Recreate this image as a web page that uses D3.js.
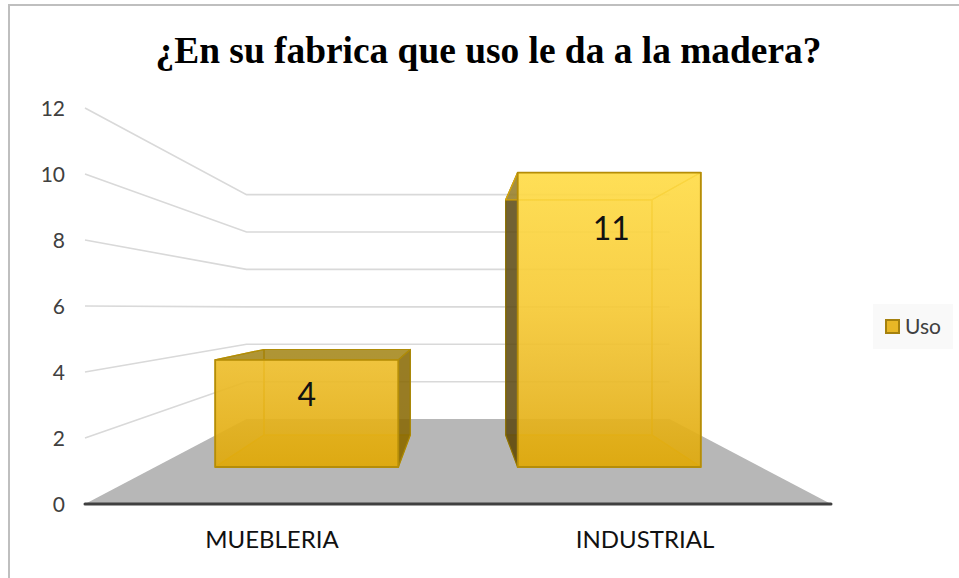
<!DOCTYPE html>
<html><head><meta charset="utf-8">
<script src="https://cdn.jsdelivr.net/npm/d3@7"></script>
<style>html,body{margin:0;padding:0;background:#fff}svg{display:block}</style>
</head><body><svg id="c" width="959" height="578"></svg>
<script>
const titleText = "¿En su fabrica que uso le da a la madera?";
const categories = ["MUEBLERIA", "INDUSTRIAL"];
const values = [4, 11];
const yTicks = [0, 2, 4, 6, 8, 10, 12];
const seriesName = "Uso";

const svg = d3.select("#c");
const FONT = "Lato, 'Open Sans', sans-serif";

// perspective: depth factor s = 1 at the front plane
const vanishX = 458, vanishY = 308;
const xWorld = d3.scaleBand().domain(categories).range([85, 831]).paddingInner(0.395).paddingOuter(0.1975);
const yWorld = d3.scaleLinear().domain([0, 12]).range([504, 108]);
const S = {front: 1, back: 0.567, barFront: 0.811, barBack: 0.648};
const px = (x, s) => vanishX + (x - vanishX) * s;
const py = (v, s) => vanishY + (yWorld(v) - vanishY) * s;
const pt = (x, v, s) => [px(x, s), py(v, s)];
const poly = a => a.map(p => p.map(n => n.toFixed(1)).join(",")).join(" ");

// frame
svg.append("path").attr("d", "M9,578V5H959").attr("fill", "none").attr("stroke", "#bfbfbf").attr("stroke-width", 2);

// gradient
const defs = svg.append("defs");
const grad = defs.append("linearGradient").attr("id", "gold").attr("gradientUnits", "userSpaceOnUse")
  .attr("x1", 0).attr("x2", 0).attr("y1", py(11, S.barFront)).attr("y2", py(0, S.barFront));
grad.append("stop").attr("offset", 0).attr("stop-color", "#ffdc48");
grad.append("stop").attr("offset", 0.45).attr("stop-color", "#f6ca36");
grad.append("stop").attr("offset", 0.68).attr("stop-color", "#ecbc2a");
grad.append("stop").attr("offset", 1).attr("stop-color", "#dfa90c");

// floor
const xL = 85, xR = 831;
svg.append("polygon").attr("fill", "#b7b7b7")
  .attr("points", poly([pt(xL, 0, S.front), pt(xR, 0, S.front), pt(xR, 0, S.back), pt(xL, 0, S.back)]));

// gridlines on side wall and back wall
yTicks.filter(t => t > 0).forEach(t => {
  svg.append("polyline").attr("fill", "none").attr("stroke", "#d9d9d9").attr("stroke-width", 1.6)
    .attr("points", poly([pt(xL, t, S.front), pt(xL, t, S.back), pt(xR, t, S.back)]));
});

// axis base line
svg.append("line").attr("x1", xL).attr("x2", xR).attr("y1", yWorld(0)).attr("y2", yWorld(0))
  .attr("stroke", "#404040").attr("stroke-width", 3).attr("stroke-linecap", "round");

// y tick labels
svg.selectAll("text.yt").data(yTicks).enter().append("text").attr("class", "yt")
  .attr("x", 65).attr("y", d => yWorld(d) + 1).attr("dy", "0.35em").attr("text-anchor", "end")
  .attr("font-family", FONT).attr("font-size", 21).attr("fill", "#404040").text(d => d);

// category labels
svg.selectAll("text.xt").data(categories).enter().append("text").attr("class", "xt")
  .attr("x", d => px(xWorld(d) + xWorld.bandwidth() / 2, 1) + 0.5).attr("y", 540).attr("dy", "0.35em").attr("text-anchor", "middle")
  .attr("font-family", FONT).attr("font-size", 24).attr("fill", "#111").text(d => d);

// bars
const labelDrop = [35, 56];
categories.forEach((c, i) => {
  const v = values[i], a = xWorld(c), b = a + xWorld.bandwidth();
  const g = svg.append("g");
  const F = (x, val) => pt(x, val, S.barFront), B = (x, val) => pt(x, val, S.barBack);
  const back = [B(a, 0), B(b, 0), B(b, v), B(a, v)];
  const floor = [F(a, 0), F(b, 0), B(b, 0), B(a, 0)];
  const top = [F(a, v), F(b, v), B(b, v), B(a, v)];
  const left = [F(a, 0), F(a, v), B(a, v), B(a, 0)];
  const right = [F(b, 0), F(b, v), B(b, v), B(b, 0)];
  const front = [F(a, 0), F(b, 0), F(b, v), F(a, v)];
  const topOut = B(a, v)[1] < F(a, v)[1];
  const leftOut = B(a, 0)[0] < F(a, 0)[0];
  const rightOut = B(b, 0)[0] > F(b, 0)[0];
  const inner = {fill: "url(#gold)", op: 0.35, stroke: "#d8a70c"};
  const dark = {fill: "#7f6200", op: 0.8, stroke: "#a88708"};
  const face = (pts, st, w) => g.append("polygon").attr("points", poly(pts))
    .attr("fill", st.fill).attr("fill-opacity", st.op).attr("stroke", st.stroke).attr("stroke-width", w || 1.2).attr("stroke-linejoin", "round");
  face(back, inner);
  face(floor, {fill: "#d9a70c", op: 0.7, stroke: "#d8a70c"});
  face(left, leftOut ? {fill: "#4f3f10", op: 0.8, stroke: "#8a7008"} : inner);
  face(right, rightOut ? dark : inner);
  face(top, topOut ? {fill: "#96780a", op: 0.75, stroke: "#b08c08"} : inner);
  face(front, {fill: "url(#gold)", op: 0.88, stroke: "#b58d08"}, 1.8);
  g.append("text").attr("x", (F(a, v)[0] + F(b, v)[0]) / 2 + (i ? 2 : 0)).attr("y", F(a, v)[1] + labelDrop[i]).attr("dy", "0.35em")
    .attr("text-anchor", "middle").attr("font-family", FONT).attr("font-size", 32).attr("fill", "#111").text(v);
});

// title
svg.append("text").attr("x", 488.5).attr("y", 50).attr("dy", "0.35em").attr("text-anchor", "middle")
  .attr("font-family", "'Liberation Serif', serif").attr("font-weight", "bold").attr("font-size", 37.4).attr("fill", "#000").text(titleText);

// legend
const lg = svg.append("g");
lg.append("rect").attr("x", 873).attr("y", 304).attr("width", 80).attr("height", 45).attr("fill", "#f9f9f9");
lg.append("rect").attr("x", 886).attr("y", 320).attr("width", 13).attr("height", 13).attr("fill", "#e8b726").attr("stroke", "#a5810e").attr("stroke-width", 2);
lg.append("text").attr("x", 905).attr("y", 326.5).attr("dy", "0.35em").attr("font-family", FONT).attr("font-size", 21).attr("fill", "#404040").text(seriesName);
</script></body></html>
